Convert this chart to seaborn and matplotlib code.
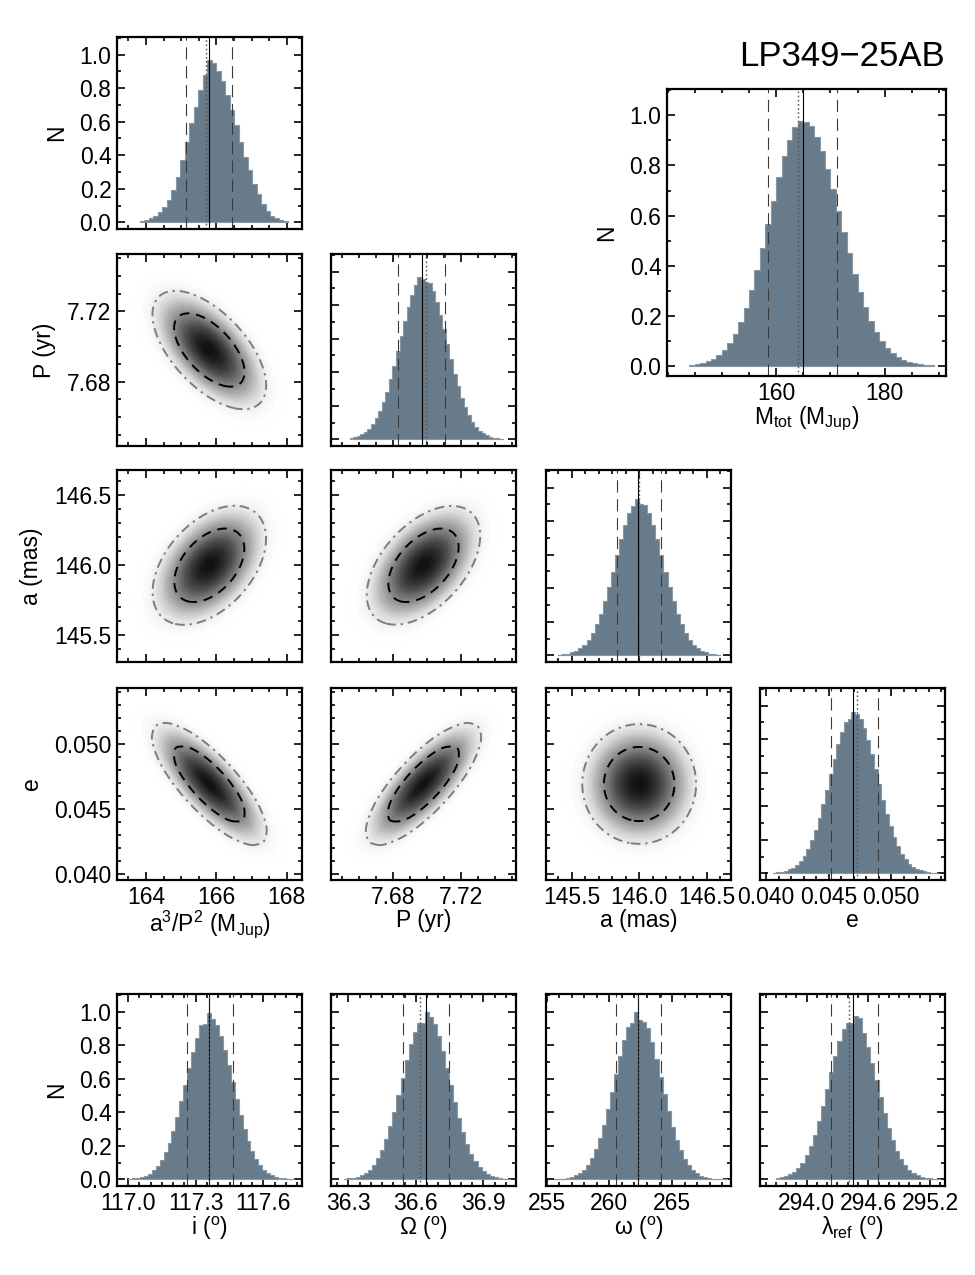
import numpy as np
import pandas as pd
import matplotlib
matplotlib.use("Agg")
import matplotlib.pyplot as plt
from matplotlib.colors import LinearSegmentedColormap
from matplotlib.ticker import FixedLocator, MultipleLocator, FormatStrFormatter
import seaborn as sns

# ---------------- 1D marginals (bin start, bin width, peak-normalised counts) ----------------
mfunc_start, mfunc_width = 163.83, 0.1273
mfunc_counts = [0.01, 0.015, 0.025, 0.04, 0.06, 0.09, 0.13, 0.19, 0.27, 0.37, 0.48, 0.59, 0.69, 0.79,
                0.88, 0.97, 0.95, 0.90, 0.84, 0.76, 0.67, 0.58, 0.48, 0.39, 0.31, 0.23, 0.17, 0.11,
                0.07, 0.04, 0.025, 0.012, 0.005]
mfunc_lines = [165.79, 165.70, 165.15, 166.44]   # median, mode, -1 sigma, +1 sigma

mtot_start, mtot_width = 144.0, 1.0
mtot_counts = [0.004, 0.007, 0.011, 0.018, 0.028, 0.043, 0.064, 0.091, 0.128, 0.176, 0.233, 0.304,
               0.382, 0.47, 0.565, 0.66, 0.752, 0.836, 0.903, 0.952, 0.978, 0.975, 0.957, 0.915,
               0.858, 0.787, 0.706, 0.62, 0.534, 0.449, 0.368, 0.294, 0.235, 0.18, 0.136, 0.101,
               0.073, 0.051, 0.036, 0.025, 0.016, 0.010, 0.007, 0.004, 0.002]
mtot_lines = [164.9, 164.0, 158.45, 171.2]

per_start, per_width = 7.6545, 0.0021
per_counts = [0.008, 0.013, 0.020, 0.030, 0.044, 0.064, 0.090, 0.125, 0.169, 0.221, 0.284, 0.358,
              0.439, 0.527, 0.616, 0.705, 0.788, 0.858, 0.92, 0.97, 0.955, 0.94, 0.934, 0.886,
              0.82, 0.741, 0.655, 0.566, 0.476, 0.392, 0.315, 0.247, 0.19, 0.143, 0.104, 0.074,
              0.052, 0.036, 0.024, 0.015, 0.010, 0.006, 0.004]
per_lines = [7.697, 7.6997, 7.683, 7.7107]

sma_start, sma_width = 145.4, 0.03
sma_counts = [0.003, 0.006, 0.010, 0.017, 0.027, 0.042, 0.064, 0.094, 0.133, 0.184, 0.247, 0.322,
              0.406, 0.499, 0.596, 0.691, 0.777, 0.848, 0.89, 0.93, 0.905, 0.895, 0.848, 0.777,
              0.691, 0.596, 0.499, 0.406, 0.322, 0.247, 0.184, 0.133, 0.094, 0.064, 0.042, 0.027,
              0.017, 0.010, 0.006, 0.003]
sma_lines = [145.99, 146.0, 145.835, 146.16]

ecc_start, ecc_width = 0.0405, 0.0003
ecc_counts = [0.003, 0.005, 0.009, 0.014, 0.023, 0.034, 0.051, 0.074, 0.106, 0.146, 0.196, 0.257,
              0.329, 0.411, 0.499, 0.591, 0.684, 0.77, 0.845, 0.90, 0.92, 0.96, 0.951, 0.92,
              0.867, 0.796, 0.713, 0.623, 0.53, 0.44, 0.355, 0.28, 0.215, 0.161, 0.118, 0.084,
              0.058, 0.039, 0.026, 0.017, 0.011, 0.006, 0.004, 0.002]
ecc_lines = [0.04697, 0.04724, 0.04519, 0.0489]

inc_start, inc_width = 117.0, 0.0175
inc_counts = [0.003, 0.005, 0.008, 0.013, 0.022, 0.034, 0.053, 0.078, 0.113, 0.16, 0.218, 0.289,
              0.372, 0.465, 0.564, 0.664, 0.76, 0.844, 0.92, 0.925, 0.99, 0.958, 0.919, 0.856,
              0.773, 0.679, 0.578, 0.479, 0.385, 0.301, 0.228, 0.167, 0.119, 0.083, 0.056, 0.036,
              0.023, 0.014, 0.009, 0.005, 0.003, 0.002]
inc_lines = [117.36, 117.36, 117.262, 117.467]

node_start, node_width = 36.28, 0.018
node_counts = [0.003, 0.005, 0.009, 0.015, 0.024, 0.038, 0.058, 0.087, 0.125, 0.176, 0.239, 0.315,
               0.404, 0.503, 0.607, 0.71, 0.808, 0.88, 0.93, 0.935, 1.0, 0.97, 0.929, 0.856,
               0.765, 0.665, 0.56, 0.458, 0.363, 0.28, 0.209, 0.152, 0.107, 0.073, 0.048, 0.031,
               0.019, 0.012, 0.007, 0.004, 0.002]
node_lines = [36.644, 36.619, 36.541, 36.748]

argp_start, argp_width = 255.6, 0.32
argp_counts = [0.0014, 0.0025, 0.0046, 0.008, 0.014, 0.023, 0.037, 0.058, 0.087, 0.127, 0.178, 0.245,
               0.325, 0.417, 0.52, 0.627, 0.733, 0.83, 0.91, 0.93, 1.0, 0.95, 0.94, 0.901, 0.818,
               0.72, 0.613, 0.506, 0.405, 0.314, 0.236, 0.172, 0.121, 0.083, 0.055, 0.035, 0.022,
               0.013, 0.008, 0.004, 0.0024, 0.0013, 0.0006]
argp_lines = [262.3, 262.3, 260.53, 264.13]

lam_start, lam_width = 293.7, 0.04
lam_counts = [0.0065, 0.011, 0.018, 0.029, 0.045, 0.068, 0.1, 0.143, 0.198, 0.266, 0.346, 0.438,
              0.537, 0.639, 0.738, 0.826, 0.898, 0.93, 0.935, 0.975, 0.96, 0.87, 0.79, 0.695,
              0.593, 0.49, 0.394, 0.307, 0.232, 0.17, 0.121, 0.084, 0.056, 0.036, 0.023, 0.014,
              0.008, 0.005, 0.0027, 0.0015]
lam_lines = [294.453, 294.414, 294.236, 294.69]

# ---------------- 2D joint densities (coarse grids, rows = top to bottom, per mille of peak) ----------------
mfunc_grid = [164.0, 164.36, 164.72, 165.08, 165.44, 165.8, 166.16, 166.52, 166.88, 167.24, 167.6]
per_grid = [7.6605, 7.668, 7.6755, 7.683, 7.6905, 7.698, 7.7055, 7.713, 7.7205, 7.728, 7.7355]
sma_grid = [145.525, 145.62, 145.715, 145.81, 145.905, 146.0, 146.095, 146.19, 146.285, 146.38, 146.475]
ecc_grid = [0.0417, 0.04274, 0.04378, 0.04482, 0.04586, 0.0469, 0.04794, 0.04898, 0.05002, 0.05106, 0.0521]

dens_per_mfunc = [
    [4, 8, 11, 8, 4, 1, 0, 0, 0, 0, 0],
    [8, 27, 51, 54, 32, 11, 2, 0, 0, 0, 0],
    [11, 51, 132, 196, 165, 80, 22, 3, 0, 0, 0],
    [8, 54, 196, 407, 481, 324, 125, 27, 3, 0, 0],
    [4, 32, 165, 481, 799, 755, 407, 125, 22, 2, 0],
    [1, 11, 80, 324, 755, 999, 755, 324, 80, 11, 1],
    [0, 2, 22, 125, 407, 755, 799, 481, 165, 32, 4],
    [0, 0, 3, 27, 125, 324, 481, 407, 196, 54, 8],
    [0, 0, 0, 3, 22, 80, 165, 196, 132, 51, 11],
    [0, 0, 0, 0, 2, 11, 32, 54, 51, 27, 8],
    [0, 0, 0, 0, 0, 1, 4, 8, 11, 8, 4],
]
dens_sma_mfunc = [
    [0, 0, 0, 0, 1, 4, 8, 11, 10, 6, 2],
    [0, 0, 0, 2, 10, 27, 49, 56, 41, 19, 6],
    [0, 0, 3, 16, 57, 131, 192, 180, 107, 41, 10],
    [0, 2, 16, 73, 215, 405, 486, 370, 180, 56, 11],
    [1, 10, 57, 215, 520, 798, 780, 486, 192, 49, 8],
    [4, 27, 131, 405, 798, 999, 798, 405, 131, 27, 4],
    [8, 49, 192, 486, 780, 798, 520, 215, 57, 10, 1],
    [11, 56, 180, 370, 486, 405, 215, 73, 16, 2, 0],
    [10, 41, 107, 180, 192, 131, 57, 16, 3, 0, 0],
    [6, 19, 41, 56, 49, 27, 10, 2, 0, 0, 0],
    [2, 6, 10, 11, 8, 4, 1, 0, 0, 0, 0],
]
dens_sma_per = [
    [0, 0, 0, 0, 1, 2, 6, 10, 10, 6, 2],
    [0, 0, 0, 1, 6, 21, 44, 56, 44, 21, 6],
    [0, 0, 2, 10, 44, 115, 186, 186, 115, 44, 10],
    [0, 1, 10, 56, 186, 383, 486, 383, 186, 56, 10],
    [1, 6, 44, 186, 486, 787, 787, 486, 186, 44, 6],
    [2, 21, 115, 383, 787, 999, 787, 383, 115, 21, 2],
    [6, 44, 186, 486, 787, 787, 486, 186, 44, 6, 1],
    [10, 56, 186, 383, 486, 383, 186, 56, 10, 1, 0],
    [10, 44, 115, 186, 186, 115, 44, 10, 2, 0, 0],
    [6, 21, 44, 56, 44, 21, 6, 1, 0, 0, 0],
    [2, 6, 10, 10, 6, 2, 1, 0, 0, 0, 0],
]
dens_ecc_mfunc = [
    [6, 11, 8, 2, 0, 0, 0, 0, 0, 0, 0],
    [11, 39, 56, 32, 7, 1, 0, 0, 0, 0, 0],
    [8, 56, 162, 188, 87, 16, 1, 0, 0, 0, 0],
    [2, 32, 188, 445, 421, 159, 24, 1, 0, 0, 0],
    [0, 7, 87, 421, 816, 631, 195, 24, 1, 0, 0],
    [0, 1, 16, 159, 631, 999, 631, 159, 16, 1, 0],
    [0, 0, 1, 24, 195, 631, 816, 421, 87, 7, 0],
    [0, 0, 0, 1, 24, 159, 421, 445, 188, 32, 2],
    [0, 0, 0, 0, 1, 16, 87, 188, 162, 56, 8],
    [0, 0, 0, 0, 0, 1, 7, 32, 56, 39, 11],
    [0, 0, 0, 0, 0, 0, 0, 2, 8, 11, 6],
]
dens_ecc_per = [
    [0, 0, 0, 0, 0, 0, 0, 2, 8, 11, 6],
    [0, 0, 0, 0, 0, 1, 7, 32, 56, 39, 11],
    [0, 0, 0, 0, 1, 16, 87, 188, 162, 56, 8],
    [0, 0, 0, 1, 24, 159, 421, 445, 188, 32, 2],
    [0, 0, 1, 24, 195, 631, 816, 421, 87, 7, 0],
    [0, 1, 16, 159, 631, 999, 631, 159, 16, 1, 0],
    [0, 7, 87, 421, 816, 631, 195, 24, 1, 0, 0],
    [2, 32, 188, 445, 421, 159, 24, 1, 0, 0, 0],
    [8, 56, 162, 188, 87, 16, 1, 0, 0, 0, 0],
    [11, 39, 56, 32, 7, 1, 0, 0, 0, 0, 0],
    [6, 11, 8, 2, 0, 0, 0, 0, 0, 0, 0],
]
dens_ecc_sma = [
    [0, 1, 2, 5, 9, 11, 9, 5, 2, 1, 0],
    [1, 3, 11, 27, 47, 56, 47, 27, 11, 3, 1],
    [2, 11, 39, 96, 165, 198, 165, 96, 39, 11, 2],
    [5, 27, 96, 237, 406, 486, 406, 237, 96, 27, 5],
    [9, 47, 165, 406, 697, 834, 697, 406, 165, 47, 9],
    [11, 56, 198, 486, 834, 999, 834, 486, 198, 56, 11],
    [9, 47, 165, 406, 697, 834, 697, 406, 165, 47, 9],
    [5, 27, 96, 237, 406, 486, 406, 237, 96, 27, 5],
    [2, 11, 39, 96, 165, 198, 165, 96, 39, 11, 2],
    [1, 3, 11, 27, 47, 56, 47, 27, 11, 3, 1],
    [0, 1, 2, 5, 9, 11, 9, 5, 2, 1, 0],
]

# ---------------- style ----------------
sns.set_theme(style="ticks")
plt.rcParams["font.family"] = ["Liberation Sans", "DejaVu Sans"]
plt.rcParams.update({
    "mathtext.fontset": "custom",
    "mathtext.rm": "Liberation Sans",
    "mathtext.it": "Liberation Sans:italic",
    "mathtext.bf": "Liberation Sans:bold",
    "axes.edgecolor": "black", "axes.labelcolor": "black", "text.color": "black",
    "xtick.color": "black", "ytick.color": "black",
})
FILL = "#687b8a"
EDGE = "#8a98a3"
grey_map = LinearSegmentedColormap.from_list(
    "dens", [(0.0, "#ffffff"), (0.03, "#f6f6f6"), (0.08, "#dedede"), (0.18, "#b4b4b4"),
             (0.32, "#8c8c8c"), (0.6, "#505050"), (1.0, "#111111")])
FS = 16.5

N_AX = dict(lim=(-0.04, 1.105), major=[0.0, 0.2, 0.4, 0.6, 0.8, 1.0], minor=0.1, fmt="%.1f", label="N")
SPEC = {
    "mfunc": dict(lim=(163.18, 168.43), major=[164, 166, 168], minor=0.5, fmt="%d",
                  label=r"a$^3$/P$^2$ (M$_{\rm Jup}$)"),
    "per": dict(lim=(7.6435, 7.7525), major=[7.68, 7.72], minor=0.01, fmt="%.2f", label="P (yr)"),
    "sma": dict(lim=(145.31, 146.68), major=[145.5, 146.0, 146.5], minor=0.1, fmt="%.1f", label="a (mas)"),
    "ecc": dict(lim=(0.0395, 0.0543), major=[0.040, 0.045, 0.050], minor=0.001, fmt="%.3f", label="e"),
    "mtot": dict(lim=(139.9, 191.3), major=[160, 180], minor=5, fmt="%d",
                 label=r"M$_{\rm tot}$ (M$_{\rm Jup}$)"),
    "inc": dict(lim=(116.951, 117.771), major=[117.0, 117.3, 117.6], minor=0.05, fmt="%.1f",
                label=r"i ($^{\rm o}$)"),
    "node": dict(lim=(36.223, 37.045), major=[36.3, 36.6, 36.9], minor=0.05, fmt="%.1f",
                 label=r"Ω ($^{\rm o}$)"),
    "argp": dict(lim=(254.95, 269.7), major=[255, 260, 265], minor=1, fmt="%d",
                 label=r"ω ($^{\rm o}$)"),
    "lam": dict(lim=(293.546, 295.346), major=[294.0, 294.6, 295.2], minor=0.1, fmt="%.1f",
                label=r"λ$_{\rm ref}$ ($^{\rm o}$)"),
}

W, H = 975, 1275
fig = plt.figure(figsize=(W / 100, H / 100), dpi=100)


def panel(x0, y0, w=185, h=192):
    return fig.add_axes([x0 / W, 1 - (y0 + h) / H, w / W, h / H])


def frame(ax, xs, ys, show_x, show_y):
    for axis, s in ((ax.xaxis, xs), (ax.yaxis, ys)):
        axis.set_major_locator(FixedLocator(s["major"]))
        axis.set_minor_locator(MultipleLocator(s["minor"]))
        axis.set_major_formatter(FormatStrFormatter(s["fmt"]))
    ax.set_xlim(xs["lim"])
    ax.set_ylim(ys["lim"])
    ax.tick_params(which="both", direction="in", top=True, right=True, bottom=True, left=True,
                   labelbottom=show_x, labelleft=show_y, labelsize=FS, width=1.2, pad=4)
    ax.tick_params(which="major", length=6)
    ax.tick_params(which="minor", length=3)
    ax.set_xlabel(xs["label"] if show_x else "", fontsize=FS, labelpad=0)
    ax.set_ylabel(ys["label"] if show_y else "", fontsize=FS, labelpad=8)
    for sp in ax.spines.values():
        sp.set_linewidth(1.6)
        sp.set_color("black")


def draw_hist(ax, start, width, counts, lines):
    counts = np.asarray(counts, float)
    edges = start + width * np.arange(len(counts) + 1)
    sns.histplot(x=edges[:-1] + width / 2, weights=counts, bins=list(edges), element="step",
                 fill=True, color=FILL, alpha=1, edgecolor=EDGE, linewidth=0.8, ax=ax)
    med, mode, lo, hi = lines
    ax.axvline(med, color="black", lw=0.8)
    ax.axvline(mode, color="#555555", lw=1.0, ls=(0, (1.2, 1.8)))
    for v in (lo, hi):
        ax.axvline(v, color="#3a3a3a", lw=0.8, ls=(0, (11, 6)))


def draw_pair(ax, xc, yc, dens):
    xx, yy = np.meshgrid(np.asarray(xc), np.asarray(yc)[::-1])
    df = pd.DataFrame({"x": xx.ravel(), "y": yy.ravel(), "w": np.asarray(dens, float).ravel()})
    kw = dict(data=df, x="x", y="y", weights="w", bw_adjust=0.8, gridsize=180, cut=5, ax=ax)
    sns.kdeplot(fill=True, levels=90, thresh=0.004, cmap=grey_map, **kw)
    sns.kdeplot(levels=[0.05], color="#7d7d7d", linewidths=1.4,
                linestyles=[(0, (5, 2.5, 1.2, 2.5))], **kw)
    sns.kdeplot(levels=[0.32], color="black", linewidths=1.4, linestyles=[(0, (5, 3.5))], **kw)


col_x = [117, 331, 546, 760]
row_y = [37, 254, 470, 688, 994]

hists = {
    "mfunc": (mfunc_start, mfunc_width, mfunc_counts, mfunc_lines),
    "per": (per_start, per_width, per_counts, per_lines),
    "sma": (sma_start, sma_width, sma_counts, sma_lines),
    "ecc": (ecc_start, ecc_width, ecc_counts, ecc_lines),
    "mtot": (mtot_start, mtot_width, mtot_counts, mtot_lines),
    "inc": (inc_start, inc_width, inc_counts, inc_lines),
    "node": (node_start, node_width, node_counts, node_lines),
    "argp": (argp_start, argp_width, argp_counts, argp_lines),
    "lam": (lam_start, lam_width, lam_counts, lam_lines),
}
grids = {"mfunc": mfunc_grid, "per": per_grid, "sma": sma_grid, "ecc": ecc_grid}
pairs = {
    ("mfunc", "per"): dens_per_mfunc,
    ("mfunc", "sma"): dens_sma_mfunc,
    ("per", "sma"): dens_sma_per,
    ("mfunc", "ecc"): dens_ecc_mfunc,
    ("per", "ecc"): dens_ecc_per,
    ("sma", "ecc"): dens_ecc_sma,
}

# corner part
order = ["mfunc", "per", "sma", "ecc"]
for r, yv in enumerate(order):
    for c in range(r + 1):
        xv = order[c]
        ax = panel(col_x[c], row_y[r])
        show_x = (r == 3)
        show_y = (c == 0)
        if c == r:
            draw_hist(ax, *hists[xv])
            frame(ax, SPEC[xv], N_AX, show_x, show_y)
        else:
            draw_pair(ax, grids[xv], grids[yv], pairs[(xv, yv)])
            frame(ax, SPEC[xv], SPEC[yv], show_x, show_y)

# total mass panel
ax = panel(667, 89, 279, 287)
draw_hist(ax, *hists["mtot"])
frame(ax, SPEC["mtot"], N_AX, True, True)

# angle row
for c, name in enumerate(["inc", "node", "argp", "lam"]):
    ax = panel(col_x[c], row_y[4])
    draw_hist(ax, *hists[name])
    frame(ax, SPEC[name], N_AX, True, c == 0)

fig.text(945 / W, 1 - 57 / H, "LP349\u221225AB", ha="right", va="center", fontsize=25)

fig.savefig("out.png", dpi=100)
